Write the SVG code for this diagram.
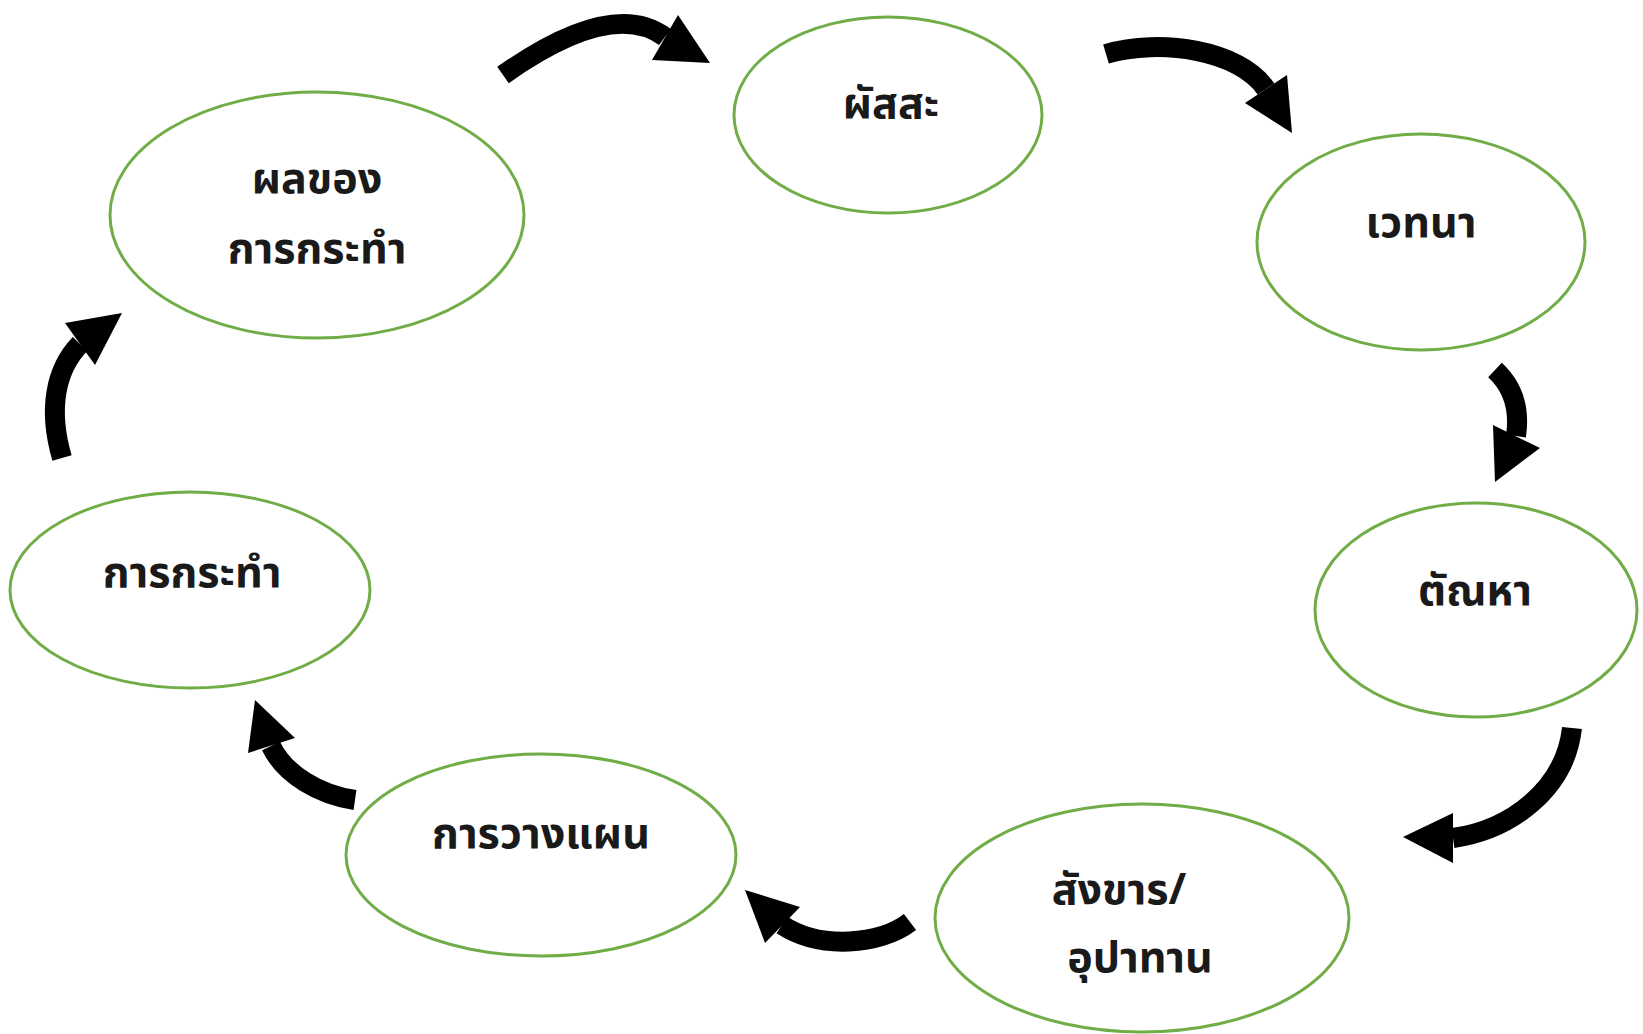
<svg xmlns="http://www.w3.org/2000/svg" width="1643" height="1034" viewBox="0 0 1643 1034">
<style>
.node ellipse{fill:#ffffff;stroke:#70ad47;stroke-width:3}
.node text{font-family:"Noto Sans Thai","Noto Sans","DejaVu Sans",sans-serif;font-weight:bold;font-size:43px;fill:#1a1a1a;text-anchor:middle}
.shaft{fill:none;stroke:#000;stroke-width:20}
.head{fill:#000}
</style>
<rect width="1643" height="1034" fill="#ffffff"/>
<g id="connectors">
<path class="shaft" d="M 503 75 Q 612 -2 665 37"/>
<polygon class="head" points="678,15 710,63 652,60"/>
<path class="shaft" d="M 1106 54 C 1160 38 1240 50 1266 89"/>
<polygon class="head" points="1287,75 1292,133 1245,103"/>
<path class="shaft" d="M 1495 370 Q 1522 395 1516 436"/>
<polygon class="head" points="1493,425 1540,448 1495,482"/>
<path class="shaft" d="M 1572 728 C 1565 790 1510 830 1453 838"/>
<polygon class="head" points="1453,813 1403,837 1453,863"/>
<path class="shaft" d="M 910 922 C 880 945 820 950 782 925"/>
<polygon class="head" points="800,907 745,890 765,943"/>
<path class="shaft" d="M 355 800 C 320 795 285 775 271 746"/>
<polygon class="head" points="255,700 295,738 248,753"/>
<path class="shaft" d="M 62 458 C 48 410 55 370 80 344"/>
<polygon class="head" points="65,323 122,313 95,365"/>
</g>
<g id="n1" class="node"><ellipse cx="317" cy="215" rx="207" ry="123"/><text x="317" y="193">ผลของ</text><text x="317" y="263">การกระทำ</text></g>
<g id="n2" class="node"><ellipse cx="888" cy="115" rx="154" ry="98"/><text x="891" y="118">ผัสสะ</text></g>
<g id="n3" class="node"><ellipse cx="1421" cy="242" rx="164" ry="108"/><text x="1421" y="237">เวทนา</text></g>
<g id="n4" class="node"><ellipse cx="1476" cy="610" rx="161" ry="107"/><text x="1475" y="605">ตัณหา</text></g>
<g id="n5" class="node"><ellipse cx="1142" cy="918" rx="207" ry="114"/><text x="1119" y="904">สังขาร/</text><text x="1140" y="972">อุปาทาน</text></g>
<g id="n6" class="node"><ellipse cx="541" cy="855" rx="195" ry="101"/><text x="541" y="848">การวางแผน</text></g>
<g id="n7" class="node"><ellipse cx="190" cy="590" rx="180" ry="98"/><text x="192" y="587">การกระทำ</text></g>
</svg>
